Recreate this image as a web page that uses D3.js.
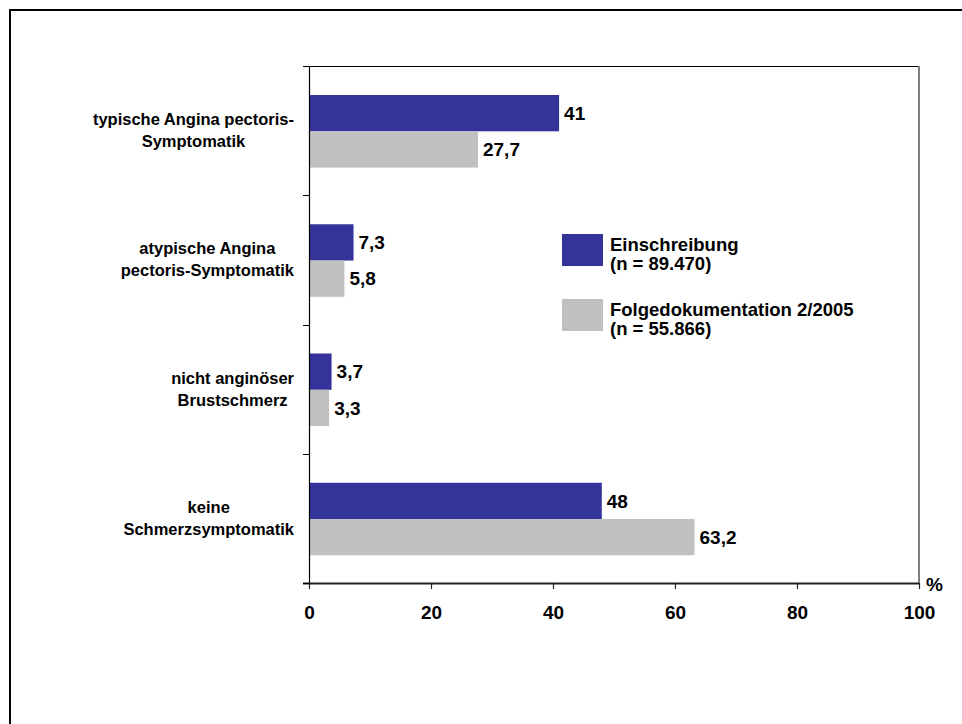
<!DOCTYPE html>
<html>
<head>
<meta charset="utf-8">
<script src="https://cdn.jsdelivr.net/npm/d3@7"></script>
<style>
  html, body { margin: 0; padding: 0; background: #fff; }
  svg { display: block; font-family: Arial, "Liberation Sans", Helvetica, sans-serif; font-weight: bold; }
</style>
</head>
<body>
<svg id="chart" width="962" height="724"></svg>
<script>
// Symptomatik: Anteil der Patienten in %, Einschreibung vs. Folgedokumentation
const categories = [
  ["typische Angina pectoris-", "Symptomatik"],
  ["atypische Angina", "pectoris-Symptomatik"],
  ["nicht anginöser", "Brustschmerz"],
  ["keine", "Schmerzsymptomatik"]
];
const seriesNames = [
  ["Einschreibung", "(n = 89.470)"],
  ["Folgedokumentation 2/2005", "(n = 55.866)"]
];
const einschreibung = [41, 7.3, 3.7, 48];
const folgedoku = [27.7, 5.8, 3.3, 63.2];
const xTicks = [0, 20, 40, 60, 80, 100];
const colors = ["#333399", "#C0C0C0"];

const svg = d3.select("#chart");

// outer frame
svg.append("path")
  .attr("d", "M10,724 V10 H962")
  .attr("fill", "none").attr("stroke", "#000").attr("stroke-width", 2);

const plot = { left: 309, right: 919, top: 66, bottom: 583 };

const x = d3.scaleLinear().domain([0, 100]).range([plot.left, plot.right]);
const y = d3.scaleBand().domain(d3.range(categories.length)).range([plot.top, plot.bottom]).padding(0);
const step = y.bandwidth();
const inner = d3.scaleBand().domain([0, 1]).range([step * 0.2245, step * 0.786]).padding(0);

const series = [einschreibung, folgedoku];

// bars
series.forEach((vals, s) => {
  svg.append("g").selectAll("rect").data(vals).join("rect")
    .attr("x", x(0))
    .attr("y", (d, i) => y(i) + inner(s))
    .attr("width", d => x(d) - x(0))
    .attr("height", inner.bandwidth())
    .attr("fill", colors[s]);
});

// plot frame: top black, right grey
svg.append("line").attr("x1", plot.left - 6).attr("x2", plot.right)
  .attr("y1", plot.top + 0.5).attr("y2", plot.top + 0.5)
  .attr("stroke", "#000").attr("stroke-width", 1);
svg.append("line").attr("x1", plot.right).attr("x2", plot.right)
  .attr("y1", plot.top).attr("y2", plot.bottom)
  .attr("stroke", "#808080").attr("stroke-width", 2);

// x axis
const xAxis = svg.append("g").attr("transform", `translate(0,${plot.bottom})`)
  .call(d3.axisBottom(x).tickValues(xTicks).tickSize(6).tickPadding(0).tickFormat(d3.format("d")));
xAxis.select(".domain").attr("d", `M${plot.left - 6},0.5H${plot.right}`).attr("stroke", "#222").attr("stroke-width", 1.8);
xAxis.selectAll(".tick line").attr("stroke", "#222").attr("stroke-width", 1.2);
xAxis.selectAll(".tick text")
  .attr("y", 36).attr("dy", null)
  .attr("fill", "#000").attr("font-size", 19).attr("font-weight", "bold")
  .attr("font-family", "Arial, 'Liberation Sans', sans-serif");

svg.append("text").attr("x", 926).attr("y", 591)
  .attr("font-size", 19).text("%");

// y axis with separators between categories
const yEdges = d3.range(categories.length + 1).map(i => i < categories.length ? y(i) : plot.bottom);
svg.append("line").attr("x1", plot.left + 0.5).attr("x2", plot.left + 0.5)
  .attr("y1", plot.top).attr("y2", plot.bottom)
  .attr("stroke", "#000").attr("stroke-width", 1.2);
svg.append("g").selectAll("line").data(yEdges).join("line")
  .attr("x1", plot.left - 6).attr("x2", plot.left)
  .attr("y1", d => Math.round(d) + 0.5).attr("y2", d => Math.round(d) + 0.5)
  .attr("stroke", "#000").attr("stroke-width", 1);

// category labels: lines centred within a block that ends near the axis
const catFont = 16.5, catLine = 22, blockRight = 294;
categories.forEach((lines, i) => {
  const cy = y(i) + step / 2;
  const g = svg.append("g");
  const texts = lines.map((ln, k) => g.append("text")
    .attr("font-size", catFont)
    .attr("text-anchor", "middle")
    .attr("y", cy + (k - (lines.length - 1) / 2) * catLine + 5.5)
    .text(ln));
  const w = d3.max(texts, t => t.node().getComputedTextLength());
  texts.forEach(t => t.attr("x", blockRight - w / 2));
});

// value labels
const fmt = v => String(v).replace(".", ",");
series.forEach((vals, s) => {
  svg.append("g").selectAll("text").data(vals).join("text")
    .attr("x", d => x(d) + 5)
    .attr("y", (d, i) => y(i) + inner(s) + inner.bandwidth() / 2 + 6.8)
    .attr("font-size", 19)
    .text(fmt);
});

// legend
const legend = svg.append("g");
const legendY = [234, 299];
seriesNames.forEach((lines, s) => {
  legend.append("rect").attr("x", 562).attr("y", legendY[s])
    .attr("width", 41).attr("height", 32).attr("fill", colors[s]);
  lines.forEach((ln, k) => {
    legend.append("text").attr("x", 610).attr("y", legendY[s] + 17 + k * 19)
      .attr("font-size", 18.5).text(ln);
  });
});
</script>
</body>
</html>
